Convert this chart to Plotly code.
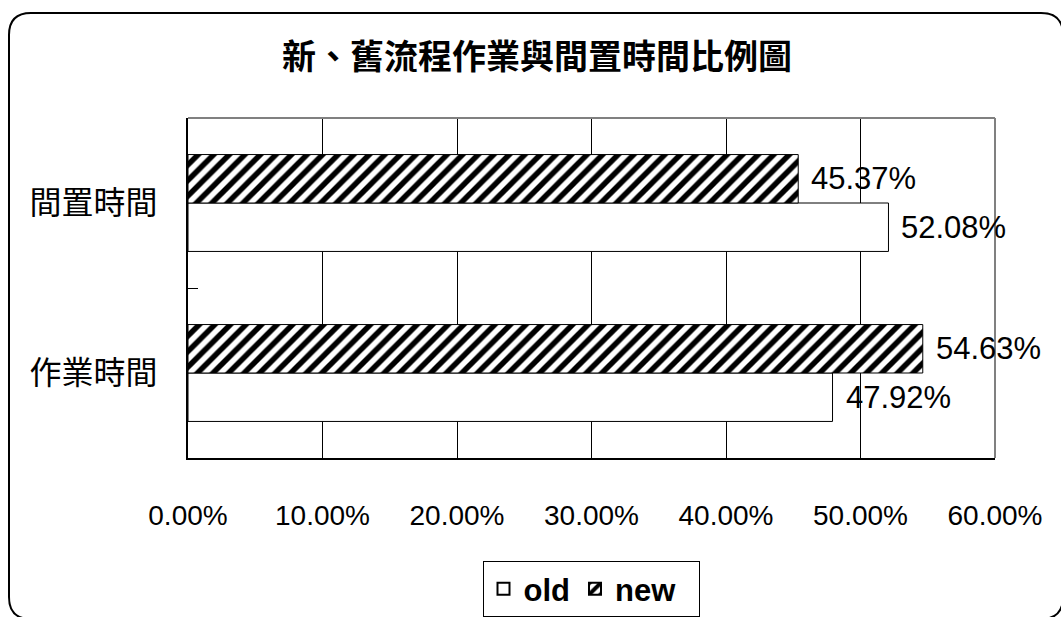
import plotly.graph_objects as go

# 資料
categories = ["作業時間", "間置時間"]
old_values = [0.4792, 0.5208]
new_values = [0.5463, 0.4537]
x_ticks = [0.0, 0.1, 0.2, 0.3, 0.4, 0.5, 0.6]
x_tick_labels = ["0.00%", "10.00%", "20.00%", "30.00%", "40.00%", "50.00%", "60.00%"]
title_text = "新、舊流程作業與間置時間比例圖"

W, H = 1061, 617
L, R, T, B = 188, 995, 118, 458  # 繪圖區 (像素)


def px(xp):
    return (xp - L) / (R - L)


def py(yp):
    return (B - yp) / (B - T)


latin = "Liberation Sans, Arial, sans-serif"
cjk = "Noto Sans CJK TC, Noto Sans CJK SC, sans-serif"

fig = go.Figure()
fig.add_trace(go.Bar(
    name="<b>old</b>", y=categories, x=old_values, orientation="h",
    marker=dict(color="white", line=dict(color="black", width=1)),
))
fig.add_trace(go.Bar(
    name="<b>new</b>  ", y=categories, x=new_values, orientation="h",
    marker=dict(color="white", line=dict(color="black", width=1),
                pattern=dict(shape="/", fgcolor="black", bgcolor="white",
                             fgopacity=1, size=11, solidity=0.5)),
))

# 數值標籤
half = (1 - 0.43) / 4
for i, cat in enumerate(categories):
    for val, off in ((old_values[i], -half), (new_values[i], half)):
        fig.add_annotation(
            x=val, y=i + off, xref="x", yref="y",
            text=f"{val * 100:.2f}%", showarrow=False,
            xanchor="left", yanchor="middle", xshift=11,
            font=dict(family=latin, size=31, color="black"),
        )

shapes = [
    # 繪圖區上、右框線 (灰色)
    dict(type="line", xref="paper", yref="paper", x0=0, x1=1, y0=1, y1=1,
         line=dict(color="#808080", width=2)),
    dict(type="line", xref="paper", yref="paper", x0=1, x1=1, y0=0, y1=1,
         line=dict(color="#808080", width=2)),
]

# 圖表外框 (圓角)
x0, y0, x1, y1, r = 9, 13, 1063, 619, 22
path = (
    f"M {px(x0)} {py(y1 - r)} "
    f"L {px(x0)} {py(y0 + r)} "
    f"Q {px(x0)} {py(y0)} {px(x0 + r)} {py(y0)} "
    f"L {px(x1 - r)} {py(y0)} "
    f"Q {px(x1)} {py(y0)} {px(x1)} {py(y0 + r)} "
    f"L {px(x1)} {py(y1 - r)} "
    f"Q {px(x1)} {py(y1)} {px(x1 - r)} {py(y1)} "
    f"L {px(x0 + r)} {py(y1)} "
    f"Q {px(x0)} {py(y1)} {px(x0)} {py(y1 - r)} Z"
)
shapes.append(dict(type="path", xref="paper", yref="paper", path=path,
                   line=dict(color="black", width=2), layer="below"))

fig.update_layout(
    width=W, height=H,
    margin=dict(l=L, r=W - R, t=T, b=H - B, pad=0, autoexpand=False),
    paper_bgcolor="white", plot_bgcolor="white",
    barmode="group", bargap=0.43, bargroupgap=0,
    title=dict(text=f"<b>{title_text}</b>", xref="paper", x=px(537),
               xanchor="center", yref="container", y=1 - 57 / H,
               yanchor="middle", automargin=False,
               font=dict(family=cjk, size=34, color="black")),
    xaxis=dict(range=[0, 0.6], tickvals=x_ticks, ticktext=x_tick_labels,
               showgrid=True, gridcolor="black", gridwidth=1,
               showline=True, linecolor="black", linewidth=2,
               zeroline=False, ticks="", ticklabelstandoff=31,
               automargin=False,
               tickfont=dict(family=latin, size=28, color="black")),
    yaxis=dict(showline=True, linecolor="black", linewidth=2,
               ticks="inside", tickson="boundaries", ticklen=10,
               tickcolor="black", tickwidth=1, showgrid=False,
               ticklabelstandoff=22, automargin=False,
               tickfont=dict(family=cjk, size=32, color="black")),
    legend=dict(orientation="h", xref="paper", x=px(591), xanchor="center",
                yref="paper", y=py(561), yanchor="top",
                bordercolor="black", borderwidth=1, bgcolor="white",
                traceorder="normal",
                font=dict(family=latin, size=31, color="black"),
                itemwidth=30, itemsizing="constant"),
    shapes=shapes,
    showlegend=True,
)

fig.write_html("out.html")
